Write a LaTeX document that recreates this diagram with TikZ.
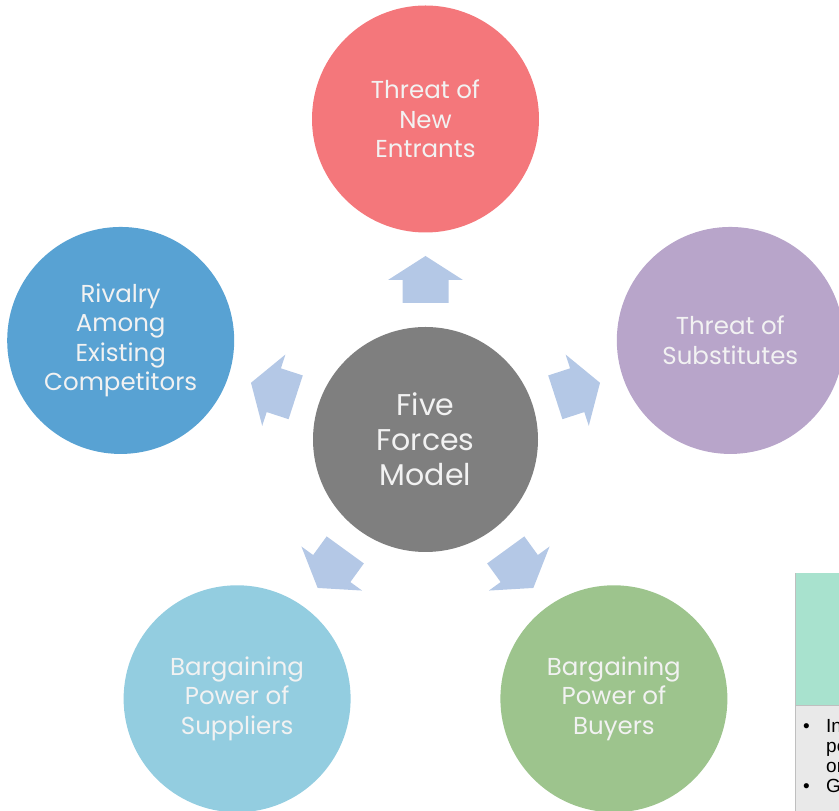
\documentclass[tikz,border=0pt]{standalone}
\usepackage{fontspec}
\setmainfont{Poppins}
\newfontfamily\panelfont{Liberation Sans}
\usetikzlibrary{calc}

\definecolor{modelgray}{HTML}{7F7F7F}
\definecolor{entrantsred}{HTML}{F4777B}
\definecolor{substpurple}{HTML}{B8A5CA}
\definecolor{rivalblue}{HTML}{58A2D3}
\definecolor{supplierblue}{HTML}{93CDE0}
\definecolor{buyergreen}{HTML}{9DC48D}
\definecolor{flowblue}{HTML}{B4C8E6}
\definecolor{panelteal}{HTML}{A8E2CE}
\definecolor{panelgray}{HTML}{E9E9E9}

\tikzset{
  force/.style={circle, minimum size=227pt, inner sep=0pt, align=center,
    text=white!95!black, font=\fontsize{24.5}{29.5}\selectfont},
  flow/.style={fill=flowblue},
}

\begin{document}
\begin{tikzpicture}[x=1pt,y=1pt]
\useasboundingbox (0,0) rectangle (839,811);
\clip (0,0) rectangle (839,811);

\node[force, fill=modelgray, minimum size=225pt, font=\fontsize{30}{35}\selectfont] (model) at (425.5,371.5) {Five\\Forces\\Model};
\node[force, fill=entrantsred] (entrants) at ($(model)+(90:320.5)$) {Threat of\\New\\Entrants};
\node[force, fill=substpurple] (substitutes) at ($(model)+(18:320.5)$) {Threat of\\Substitutes};
\node[force, fill=rivalblue] (rivalry) at ($(model)+(162:320.5)$) {Rivalry\\Among\\Existing\\Competitors};
\node[force, fill=supplierblue] (suppliers) at ($(model)+(234:320.5)$) {Bargaining\\Power of\\Suppliers};
\node[force, fill=buyergreen] (buyers) at ($(model)+(306:320.5)$) {Bargaining\\Power of\\Buyers};

% block arrows from the model out to each force
\foreach \a in {90,18,162,234,306}{
  \begin{scope}[shift={(model.center)}, rotate=\a]
    \fill[flow] (136.5,-23) -- (159.5,-23) -- (159.5,-37.5) -- (183.5,0)
      -- (159.5,37.5) -- (159.5,23) -- (136.5,23) -- cycle;
  \end{scope}
}

% side panel, cut off by the page edge
\filldraw[fill=panelgray, draw=black!25] (795,-5) rectangle (860,238);
\fill[panelteal] (795.5,106) rectangle (860,237.5);
\draw[black!25] (795,106) -- (860,106);
\begin{scope}[every node/.style={anchor=base west, inner sep=0pt, font=\panelfont\fontsize{19}{20}\selectfont}]
  \node (bulletA) at (803,78) {\textbullet};
  \node (lineA) at (826,78) {In};
  \node (lineB) at (826,58) {pe};
  \node (lineC) at (826,38) {or};
  \node (bulletB) at (803,18) {\textbullet};
  \node (lineD) at (826,18) {G};
\end{scope}
\end{tikzpicture}
\end{document}
